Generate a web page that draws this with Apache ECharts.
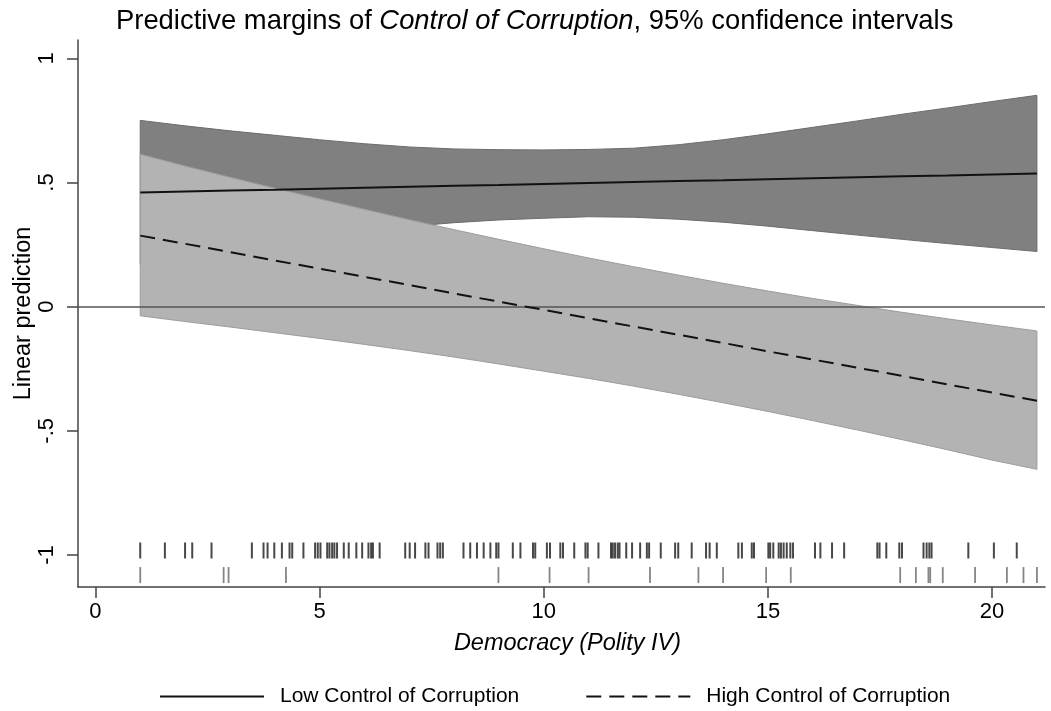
<!DOCTYPE html>
<html><head><meta charset="utf-8">
<script src="https://cdn.jsdelivr.net/npm/echarts@6/dist/echarts.min.js"></script>
<style>html,body{margin:0;padding:0;background:#fff}#c{width:1051px;height:711px}</style>
</head><body><div id="c"></div>
<script>
// Democracy (Polity IV) values where margins were evaluated
const democracy = [1,2,3,4,5,6,7,8,9,10,11,12,13,14,15,16,17,18,19,20,21];
// Low Control of Corruption: prediction and 95% CI
const lowMean  = [0.460,0.464,0.468,0.471,0.475,0.479,0.483,0.487,0.490,0.494,0.498,0.502,0.506,0.509,0.513,0.517,0.521,0.525,0.528,0.532,0.536];
const lowLower = [0.170,0.200,0.227,0.253,0.278,0.302,0.323,0.338,0.349,0.356,0.362,0.360,0.352,0.340,0.324,0.306,0.288,0.271,0.254,0.238,0.222];
const lowUpper = [0.750,0.728,0.708,0.690,0.672,0.656,0.643,0.635,0.632,0.631,0.633,0.638,0.652,0.672,0.696,0.722,0.748,0.775,0.800,0.826,0.851];
// High Control of Corruption: prediction and 95% CI
const highMean  = [0.286,0.253,0.220,0.186,0.153,0.120,0.087,0.053,0.020,-0.013,-0.047,-0.080,-0.113,-0.146,-0.180,-0.213,-0.246,-0.279,-0.313,-0.346,-0.379];
const highLower = [-0.037,-0.060,-0.082,-0.105,-0.128,-0.152,-0.177,-0.203,-0.231,-0.260,-0.289,-0.320,-0.353,-0.387,-0.422,-0.459,-0.497,-0.536,-0.576,-0.618,-0.655];
const highUpper = [0.614,0.566,0.521,0.477,0.434,0.392,0.350,0.310,0.271,0.233,0.196,0.161,0.127,0.094,0.063,0.033,0.005,-0.023,-0.049,-0.074,-0.098];
// Rug plots of observed Democracy values
const rugLow = [1.0,1.55,2.0,2.16,2.59,3.49,3.75,3.84,3.99,4.16,4.33,4.39,4.64,4.9,4.96,5.02,5.17,5.22,5.28,5.33,5.39,5.54,5.65,5.82,5.95,6.09,6.15,6.19,6.34,6.91,7.01,7.13,7.36,7.43,7.63,7.69,7.75,8.21,8.36,8.51,8.66,8.81,8.94,8.99,9.31,9.48,9.76,9.81,10.07,10.14,10.37,10.43,10.68,10.93,10.98,11.22,11.5,11.54,11.59,11.65,11.69,11.84,11.97,12.15,12.3,12.35,12.61,12.93,13.0,13.3,13.62,13.7,13.86,14.34,14.42,14.64,14.69,15.01,15.05,15.12,15.24,15.29,15.35,15.42,15.5,15.56,16.05,16.17,16.43,16.7,17.44,17.49,17.64,17.93,17.99,18.47,18.54,18.6,18.65,19.47,20.04,20.55];
const rugHigh = [1.0,2.86,2.97,4.25,8.99,10.13,11.0,12.37,13.45,14.0,14.96,15.51,17.95,18.3,18.58,18.62,18.9,19.62,20.33,20.7,21.0];
const xTicks = [0,5,10,15,20];
const yTicks = [-1,-0.5,0,0.5,1];
const RUG_LOW_Y = -0.982, RUG_HIGH_Y = -1.081;

const FONT = 'Liberation Sans';
const pairs = (ys) => democracy.map((x,i)=>[x, ys[i]]);
const bandRows = (lo,hi) => democracy.map((x,i)=>[x, lo[i], hi[i]]);

function bandSeries(lo, hi, fill, stroke, z, extra){
  const rows = bandRows(lo, hi);
  return Object.assign({
    type:'custom', data:rows, z:z, silent:true,
    encode:{x:0, y:[1,2]},
    renderItem:(params, api)=>{
      if (params.dataIndex !== 0) return;
      const top = rows.map(r=>api.coord([r[0], r[2]]));
      const bot = rows.map(r=>api.coord([r[0], r[1]])).reverse();
      return {type:'polygon', shape:{points:top.concat(bot)}, style:{fill:fill, stroke:stroke, lineWidth:1}};
    }
  }, extra||{});
}

const chart = echarts.init(document.getElementById('c'), null, {renderer:'canvas'});
chart.setOption({
  animation:false,
  backgroundColor:'#fff',
  title:{
    text:'{n|Predictive margins of }{i|Control of Corruption}{n|, 95% confidence intervals}',
    left:111, top:3,
    textStyle:{rich:{
      n:{fontSize:27.4,color:'#000',fontFamily:FONT,fontWeight:'normal'},
      i:{fontSize:27.4,color:'#000',fontFamily:FONT,fontStyle:'italic',fontWeight:'normal'}
    }}
  },
  legend:{
    data:['Low Control of Corruption','High Control of Corruption'],
    left:154, top:681, itemWidth:104, itemHeight:14, itemGap:66,
    itemStyle:{opacity:0},
    textStyle:{fontSize:21,color:'#000',fontFamily:FONT,padding:[0,0,0,11]}
  },
  grid:{left:78,right:6,top:40,bottom:124,outerBoundsMode:'none',containLabel:false},
  xAxis:{
    type:'value', min:-0.388, max:21.18,
    axisLine:{show:true,onZero:false,lineStyle:{color:'#444',width:1.5}},
    axisTick:{show:true,length:11,customValues:xTicks,lineStyle:{color:'#444',width:1.5}},
    axisLabel:{customValues:xTicks,fontSize:22,color:'#000',fontFamily:FONT,margin:14},
    splitLine:{show:false},
    name:'Democracy (Polity IV)', nameLocation:'middle', nameGap:45, nameMoveOverlap:false,
    nameTextStyle:{fontSize:23.5,fontStyle:'italic',color:'#000',fontFamily:FONT,padding:[0,0,0,12]}
  },
  yAxis:{
    type:'value', min:-1.129, max:1.0737,
    axisLine:{show:true,onZero:false,lineStyle:{color:'#444',width:1.5}},
    axisTick:{show:true,length:11,customValues:yTicks,lineStyle:{color:'#444',width:1.5}},
    axisLabel:{customValues:yTicks,rotate:90,fontSize:22,color:'#000',fontFamily:FONT,margin:20,
      formatter:(v)=>String(v).replace('0.','.')},
    splitLine:{show:false},
    name:'Linear prediction', nameLocation:'middle', nameGap:42, nameMoveOverlap:false,
    nameTextStyle:{fontSize:23.5,color:'#000',fontFamily:FONT}
  },
  series:[
    bandSeries(lowLower, lowUpper, '#808080', '#6c6c6c', 1, {
      markLine:{silent:true,symbol:'none',label:{show:false},lineStyle:{color:'#555',width:1.5,type:'solid'},data:[{yAxis:0}]}
    }),
    bandSeries(highLower, highUpper, '#b3b3b3', '#9c9c9c', 3),
    {type:'line', name:'Low Control of Corruption', data:pairs(lowMean), symbol:'none', z:5,
     itemStyle:{color:'#111'}, lineStyle:{color:'#111',width:2,type:'solid'}},
    {type:'line', name:'High Control of Corruption', data:pairs(highMean), symbol:'none', z:5,
     itemStyle:{color:'#111'}, lineStyle:{color:'#111',width:2,type:[15,8]}},
    {type:'scatter', name:'rugLow', data:rugLow.map(x=>[x,RUG_LOW_Y]), symbol:'rect', symbolSize:[2,16], z:5,
     itemStyle:{color:'#1a1a1a'}, silent:true},
    {type:'scatter', name:'rugHigh', data:rugHigh.map(x=>[x,RUG_HIGH_Y]), symbol:'rect', symbolSize:[1.8,16], z:5,
     itemStyle:{color:'#666'}, silent:true}
  ]
});
</script></body></html>
